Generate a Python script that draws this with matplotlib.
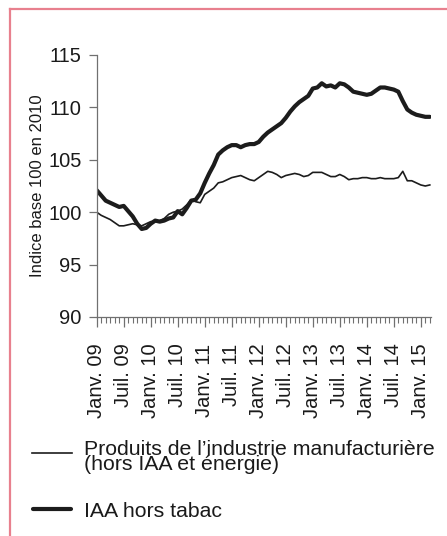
import matplotlib
matplotlib.use("Agg")
import matplotlib.pyplot as plt
from matplotlib.lines import Line2D
import numpy as np

plt.rcParams['font.family'] = ['Liberation Sans', 'DejaVu Sans']

# Monthly index values, Jan 2009 -> Mar 2015
manuf = [100.0, 99.7, 99.5, 99.3, 99.0, 98.7, 98.7, 98.8, 98.9, 98.8,
         98.7, 98.9, 99.1, 99.1, 99.2, 99.4, 99.8, 100.0, 100.1, 100.3,
         100.7, 101.2, 101.0, 100.9, 101.7, 102.0, 102.3, 102.8, 102.9, 103.1,
         103.3, 103.4, 103.5, 103.3, 103.1, 103.0, 103.3, 103.6, 103.9, 103.8,
         103.6, 103.3, 103.5, 103.6, 103.7, 103.6, 103.4, 103.5, 103.8, 103.8,
         103.8, 103.6, 103.4, 103.4, 103.6, 103.4, 103.1, 103.2, 103.2, 103.3,
         103.3, 103.2, 103.2, 103.3, 103.2, 103.2, 103.2, 103.3, 103.9, 103.0,
         103.0, 102.8, 102.6, 102.5, 102.6]
iaa = [102.1, 101.6, 101.1, 100.9, 100.7, 100.5, 100.6, 100.1, 99.6, 98.9,
       98.4, 98.5, 98.9, 99.2, 99.1, 99.2, 99.4, 99.5, 100.1, 99.8,
       100.4, 101.1, 101.2, 101.8, 102.8, 103.7, 104.5, 105.5, 105.9, 106.2,
       106.4, 106.4, 106.2, 106.4, 106.5, 106.5, 106.7, 107.2, 107.6, 107.9,
       108.2, 108.5, 109.0, 109.6, 110.1, 110.5, 110.8, 111.1, 111.8, 111.9,
       112.3, 112.0, 112.1, 111.9, 112.3, 112.2, 111.9, 111.5, 111.4, 111.3,
       111.2, 111.3, 111.6, 111.9, 111.9, 111.8, 111.7, 111.5, 110.6, 109.8,
       109.5, 109.3, 109.2, 109.1, 109.1]
tick_labels = ["Janv. 09", "Juil. 09", "Janv. 10", "Juil. 10", "Janv. 11",
               "Juil. 11", "Janv. 12", "Juil. 12", "Janv. 13", "Juil. 13",
               "Janv. 14", "Juil. 14", "Janv. 15"]
series_labels = ["Produits de l\u2019industrie manufacturi\u00e8re\n(hors IAA et \u00e9nergie)",
                 "IAA hors tabac"]
yticks = [90, 95, 100, 105, 110, 115]

W, H = 447, 536
fig = plt.figure(figsize=(W / 100, H / 100), dpi=100)
ax = fig.add_axes([96.7 / W, 1 - 317 / H, 334 / W, 262 / H])

x = np.arange(len(iaa))
ink = '#1c1c1c'
ax.plot(x, manuf, color=ink, lw=1.2, solid_joinstyle='round')
ax.plot(x, iaa, color=ink, lw=3.0, solid_joinstyle='round', solid_capstyle='round')

ax.set_xlim(0, 74.2)
ax.set_ylim(90, 115)
ax.set_yticks(yticks)
ax.set_xticks(np.arange(0, 6 * len(tick_labels), 6))
ax.set_xticklabels(tick_labels, rotation=90)
ax.set_xticks(np.arange(0, 75), minor=True)

for s in ['top', 'right']:
    ax.spines[s].set_visible(False)
grey = '#707070'
for s in ['left', 'bottom']:
    ax.spines[s].set_color(grey)
    ax.spines[s].set_linewidth(0.9)
ax.tick_params(axis='y', direction='out', length=6, width=0.9, color=grey,
               labelsize=14.5, pad=5, labelcolor='#1a1a1a')
ax.tick_params(axis='x', which='major', direction='out', length=7.5, width=0.9,
               color=grey, labelsize=14.5, pad=11.5, labelcolor='#1a1a1a')
ax.tick_params(axis='x', which='minor', direction='out', length=4, width=0.8, color=grey)
ax.set_ylabel("Indice base 100 en 2010", fontsize=12, color='#1a1a1a', labelpad=2)

# Legend (manual)
def fx(px):
    return px / W
def fy(py):
    return 1 - py / H

fs_leg = 15.3
fig.add_artist(Line2D([fx(32), fx(72)], [fy(453), fy(453)], color=ink, lw=1.2))
fig.text(fx(84), fy(440), series_labels[0], fontsize=fs_leg, va='top',
         ha='left', linespacing=0.76, color='#1a1a1a')
fig.add_artist(Line2D([fx(33), fx(71)], [fy(509), fy(509)], color=ink, lw=3.0,
                      solid_capstyle='round'))
fig.text(fx(84), fy(517), series_labels[1], fontsize=fs_leg, va='baseline',
         ha='left', color='#1a1a1a')

# Pink frame (top and left edges)
pink = '#e8808e'
fig.add_artist(Line2D([fx(10), 1.0], [fy(9), fy(9)], color=pink, lw=1.6))
fig.add_artist(Line2D([fx(10), fx(10)], [fy(9), 0.0], color=pink, lw=1.6))

fig.savefig("out.png", dpi=100)
